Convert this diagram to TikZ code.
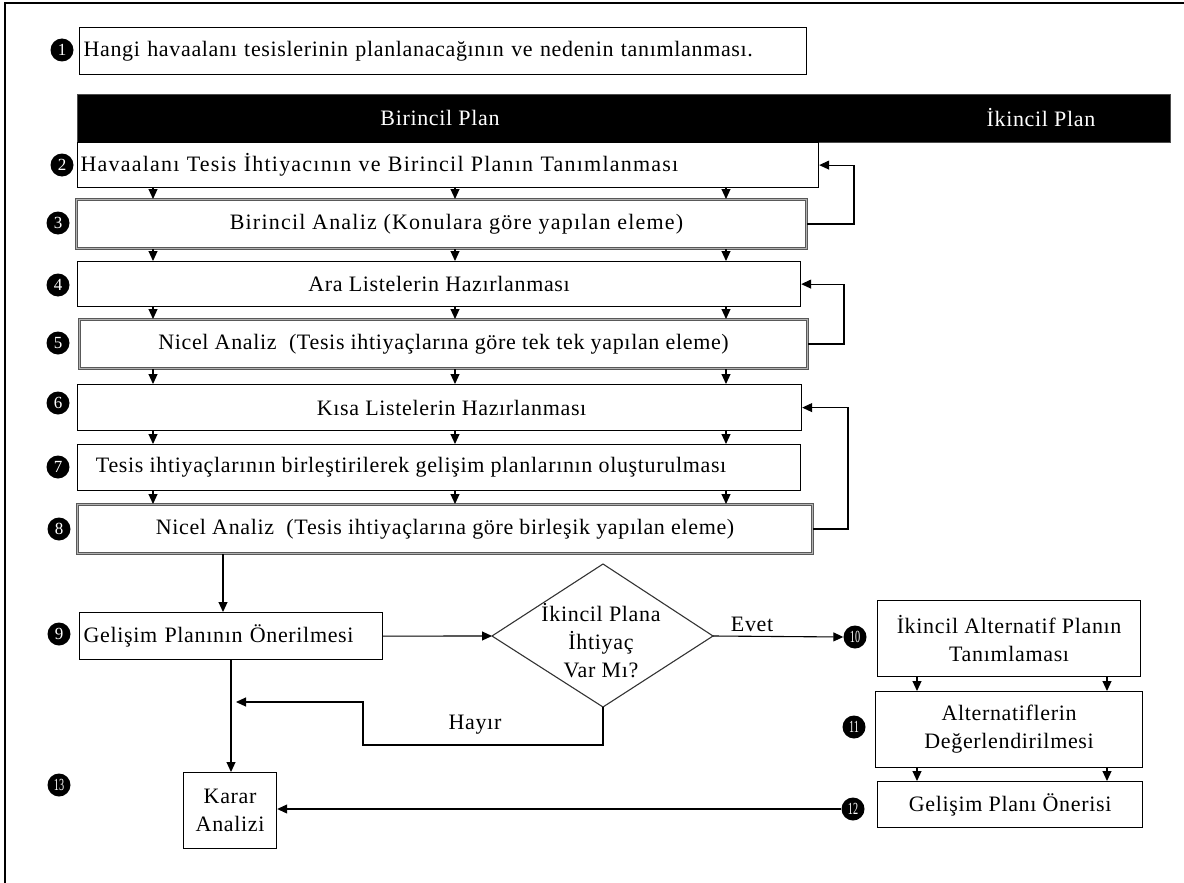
\documentclass[tikz,border=0pt]{standalone}
\usepackage{fontspec}
\setmainfont[LetterSpace=3]{Liberation Serif}
\newfontfamily\digfont{Liberation Serif}
\newfontfamily\widefont[LetterSpace=5.5]{Liberation Serif}
\usetikzlibrary{arrows.meta}
\begin{document}
\begin{tikzpicture}[x=1pt,y=-1pt,
  every node/.style={font=\fontsize{22}{28}\selectfont},
  box/.style={draw=black, line width=1.2pt, fill=white, rectangle, inner xsep=4pt, inner ysep=0pt, anchor=north west},
  dbox/.style={draw=black!65, line width=1pt, double=black!30, double distance=1.4pt, fill=white, rectangle, inner xsep=4pt, inner ysep=0pt, anchor=north west},
  bul/.style={circle, fill=black, text=white, minimum size=23pt, inner sep=0pt, font=\digfont\fontsize{17}{17}\selectfont},
  arr/.style={line width=1.1pt, -{Triangle[length=10pt,width=9pt]}},
  ln/.style={line width=1.1pt}]
\useasboundingbox (0,0) rectangle (1184,883);
\clip (0,0) rectangle (1184,883);
\draw[line width=2.2pt] (5,900) -- (5,3) -- (1200,3);

% box 1
\node[box, minimum width=727pt, minimum height=47pt, text width=719pt, align=left] (b1) at (79,27) {Hangi havaalanı tesislerinin planlanacağının ve nedenin tanımlanması.};
% bar
\node[fill=black, draw=black!70, minimum width=1093pt, minimum height=48pt, anchor=north west, inner sep=0pt] (bar) at (77,94) {};
\node[text=white] (bp1) at (440,118) {Birincil Plan};
\node[text=white] (bp2) at (1041,118) {İkincil Plan};

\node[box, minimum width=741pt, minimum height=45pt, text width=735pt, align=left, inner xsep=3pt, font=\widefont\fontsize{22}{28}\selectfont] (b2) at (77,142) {Havaalanı Tesis İhtiyacının ve Birincil Planın Tanımlanması};
\node[dbox, minimum width=730pt, minimum height=49pt, font=\widefont\fontsize{22}{28}\selectfont] (b3) at (76,199) {\hspace*{30pt}Birincil Analiz (Konulara göre yapılan eleme)};
\node[box, minimum width=723pt, minimum height=45pt] (b4) at (77,261) {Ara Listelerin Hazırlanması};
\node[dbox, minimum width=728pt, minimum height=49pt] (b5) at (79,319) {Nicel Analiz\ \ (Tesis ihtiyaçlarına göre tek tek yapılan eleme)};
\node[box, minimum width=724pt, minimum height=46pt] (b6) at (77,384) {\hspace*{24pt}Kısa Listelerin Hazırlanması};
\node[box, minimum width=723pt, minimum height=46pt] (b7) at (77,444) {Tesis ihtiyaçlarının birleştirilerek gelişim planlarının oluşturulması\hspace*{56pt}};
\node[dbox, minimum width=735pt, minimum height=49pt] (b8) at (77,504) {Nicel Analiz\ \ (Tesis ihtiyaçlarına göre birleşik yapılan eleme)};

\node[box, minimum width=303pt, minimum height=47pt, text width=295pt, align=left] (b9) at (79,612) {Gelişim Planının Önerilmesi};
\node[box, minimum width=93pt, minimum height=76pt, align=center, inner xsep=2pt] (kar) at (183,772) {Karar\\Analizi};
\node[box, minimum width=263pt, minimum height=76pt, align=center, inner xsep=2pt] (b10) at (877,600) {İkincil Alternatif Planın\\Tanımlaması};
\node[box, minimum width=267pt, minimum height=76pt, align=center, inner xsep=2pt] (b11) at (875,691) {Alternatiflerin\\Değerlendirilmesi};
\node[box, minimum width=265pt, minimum height=46pt] (b12) at (877,781) {Gelişim Planı Önerisi};

% diamond
\coordinate (dN) at (603,564);
\coordinate (dE) at (713,636);
\coordinate (dS) at (603,707);
\coordinate (dW) at (492,636);
\draw[line width=1.1pt, draw=black!80] (dN) -- (dE) -- (dS) -- (dW) -- cycle;
\node[align=center] (dt) at (601,641) {İkincil Plana\\İhtiyaç\\Var Mı?};

% bullets
\node[bul] (c1) at (62,50) {1};
\node[bul] (c2) at (62,165) {2};
\node[bul] (c3) at (58,223) {3};
\node[bul] (c4) at (58,285) {4};
\node[bul] (c5) at (58,343) {5};
\node[bul] (c6) at (58,403) {6};
\node[bul] (c7) at (58,467) {7};
\node[bul] (c8) at (59,529) {8};
\node[bul] (c9) at (59,634) {9};
\node[bul] (c10) at (855,637) {\scalebox{0.6}[1]{10}};
\node[bul] (c11) at (854,727) {\scalebox{0.6}[1]{11}};
\node[bul] (c12) at (853,809) {\scalebox{0.6}[1]{12}};
\node[bul] (c13) at (59,785) {\scalebox{0.6}[1]{13}};

% short arrows in main column
\foreach \xx in {153,455,726}{
  \draw[arr] (b2.south -| \xx,0) -- (b3.north -| \xx,0);
  \draw[arr] (b3.south -| \xx,0) -- (b4.north -| \xx,0);
  \draw[arr] (b4.south -| \xx,0) -- (b5.north -| \xx,0);
  \draw[arr] (b5.south -| \xx,0) -- (b6.north -| \xx,0);
  \draw[arr] (b6.south -| \xx,0) -- (b7.north -| \xx,0);
  \draw[arr] (b7.south -| \xx,0) -- (b8.north -| \xx,0);
}
\foreach \xx in {917,1107}{
  \draw[arr] (b10.south -| \xx,0) -- (b11.north -| \xx,0);
  \draw[arr] (b11.south -| \xx,0) -- (b12.north -| \xx,0);
}

% feedback loops
\draw[arr] (b3.east) -- ++(47,0) |- (b2.east);
\draw[arr] (b5.east) -- ++(36,0) |- (b4.east);
\draw[arr] (b8.east) -- ++(35,0) |- (b6.east);

\draw[arr] (b8.south -| 223,0) -- (b9.north -| 223,0);
\draw[arr] (b9.east) -- (dW);
\draw[arr] (dE) -- node[above=1pt, pos=0.3] (evet) {Evet} (c10.west);
\coordinate (hend) at (236,702);
\draw[arr] (dS) -- ++(0,38) -| (363,702) -- (hend);
\node (hayir) at (475,725) {Hayır};
\draw[arr] (b9.south -| 231,0) -- (kar.north -| 231,0);
\draw[arr] (c12.west) -- (kar.east |- c12.west);
\end{tikzpicture}
\end{document}
